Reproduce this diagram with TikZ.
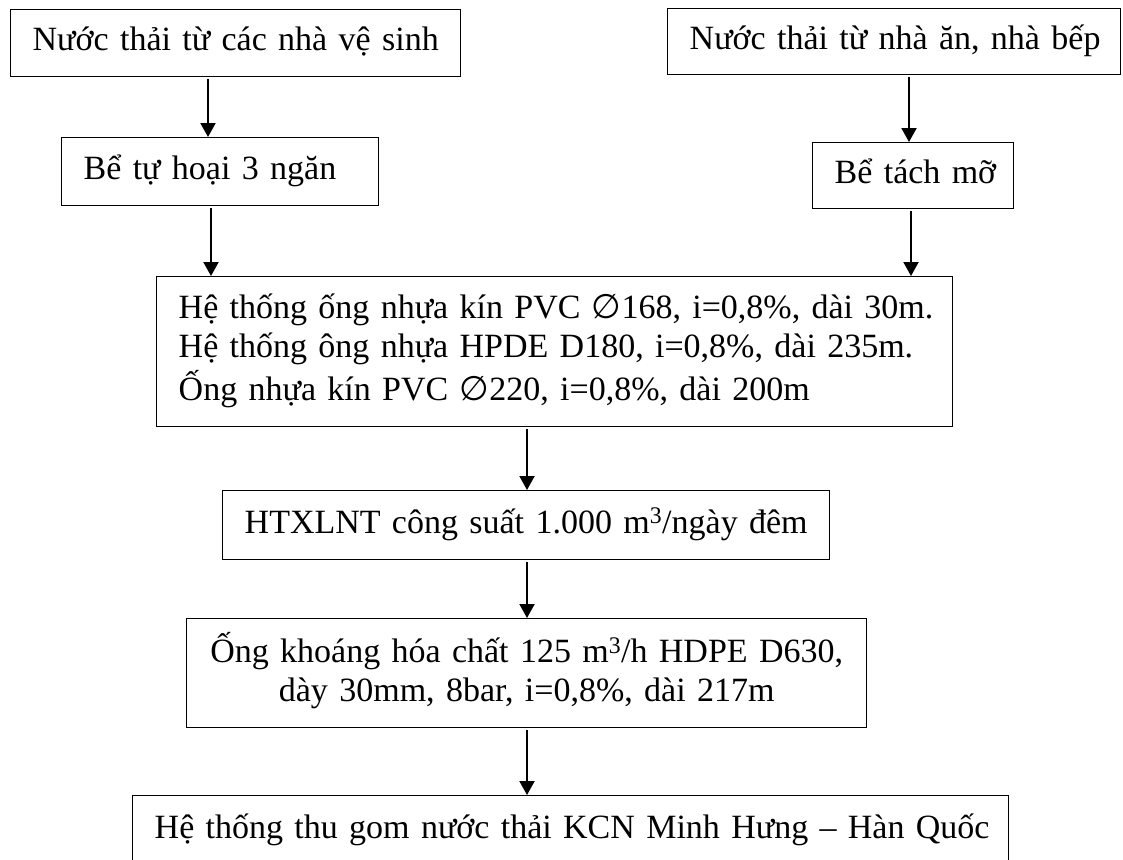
\documentclass[tikz,border=0pt]{standalone}
\usepackage{fontspec}
\setmainfont{Liberation Serif}
\newfontfamily\symfont{DejaVu Sans}
\usetikzlibrary{arrows.meta}
\newcommand\diam{{\symfont ∅}}
\newcommand\myline[1]{\mbox{\strut #1}}
\begin{document}
\begin{tikzpicture}[x=1pt,y=-1pt,
  box/.style={draw, line width=1.4pt, inner xsep=22pt, inner ysep=0pt,
    anchor=north west, align=left, font=\fontsize{34pt}{39pt}\selectfont},
  arr/.style={line width=2pt, shorten <=2pt, -{Triangle[length=14pt,width=15pt]}}]
\fill[white] (0,0) rectangle (1123,859);
\clip (0,0) rectangle (1123,859);

\node[box, text width=406pt, minimum height=67pt] (b1) at (10,9)
  {\myline{Nước thải từ các nhà vệ sinh}};
\node[box, text width=409pt, minimum height=66pt] (b2) at (667,8)
  {\myline{Nước thải từ nhà ăn, nhà bếp}};
\node[box, text width=273pt, minimum height=68pt] (b3) at (61,137)
  {\myline{Bể tự hoại 3 ngăn}};
\node[box, text width=157pt, minimum height=66pt] (b4) at (812,142)
  {\myline{Bể tách mỡ}};
\node[box, text width=752pt, minimum height=150pt] (b5) at (156,276)
  {\myline{Hệ thống ống nhựa kín PVC \diam168, i=0,8\%, dài 30m.}\\
   \myline{Hệ thống ông nhựa HPDE D180, i=0,8\%, dài 235m.}\\
   \myline{Ống nhựa kín PVC \diam220, i=0,8\%, dài 200m}};
\node[box, text width=563pt, minimum height=69pt] (b6) at (222,490)
  {\myline{HTXLNT công suất 1.000 m\textsuperscript{3}/ngày đêm}};
\node[box, align=center, text width=636pt, minimum height=109pt] (b7) at (186,618)
  {\myline{Ống khoáng hóa chất 125 m\textsuperscript{3}/h HDPE D630,}\\
   \myline{dày 30mm, 8bar, i=0,8\%, dài 217m}};
\node[box, text width=832pt, minimum height=69pt] (b8) at (132,795)
  {\myline{Hệ thống thu gom nước thải KCN Minh Hưng – Hàn Quốc}};

\coordinate (xa) at (208,0);
\coordinate (xb) at (909,0);
\coordinate (xc) at (211,0);
\coordinate (xd) at (911,0);
\coordinate (xe) at (527,0);
\draw[arr] (xa |- b1.south) -- (xa |- b3.north);
\draw[arr] (xb |- b2.south) -- (xb |- b4.north);
\draw[arr] (xc |- b3.south) -- (xc |- b5.north);
\draw[arr] (xd |- b4.south) -- (xd |- b5.north);
\draw[arr] (xe |- b5.south) -- (xe |- b6.north);
\draw[arr] (xe |- b6.south) -- (xe |- b7.north);
\draw[arr] (xe |- b7.south) -- (xe |- b8.north);
\end{tikzpicture}
\end{document}
